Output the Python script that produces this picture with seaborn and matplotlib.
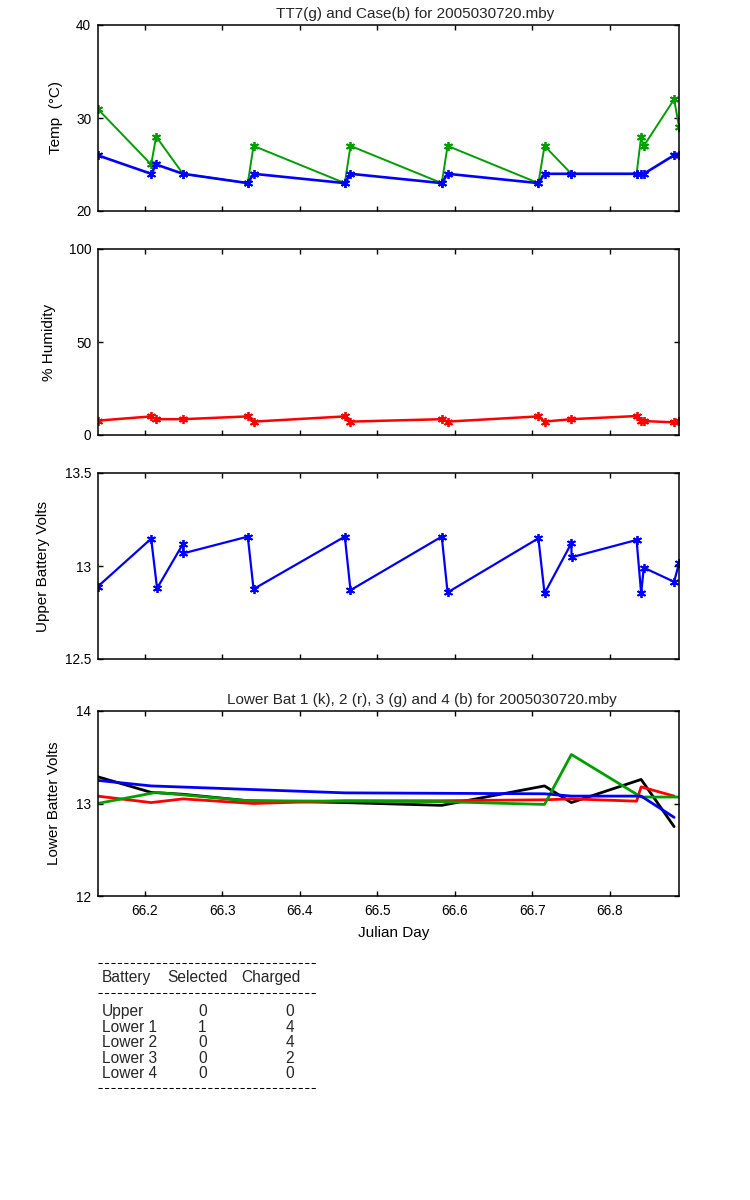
import matplotlib
matplotlib.use("Agg")
import matplotlib.pyplot as plt
import seaborn as sns
import pandas as pd
from matplotlib.lines import Line2D

# ---------------- data ----------------
times = [66.1392, 66.2084, 66.2148, 66.2494, 66.3330, 66.3404, 66.4581, 66.4654,
         66.5831, 66.5906, 66.7077, 66.7156, 66.7502, 66.8343, 66.8402, 66.8436,
         66.8827, 66.8892]
case_temp = [26, 24, 25, 24, 23, 24, 23, 24, 23, 24, 23, 24, 24, 24, 24, 24, 26, 26]
tt7_temp = [31, 25, 28, 24, 23, 27, 23, 27, 23, 27, 23, 27, 24, 24, 28, 27, 32, 29]
humidity = [7.7, 10.0, 8.5, 8.5, 10.0, 7.2, 10.0, 7.2, 8.5, 7.2, 10.0, 7.2, 8.5,
            10.2, 7.5, 7.5, 6.8, 7.3]

upper_times = [66.1392, 66.2084, 66.2160, 66.2494, 66.2497, 66.3330, 66.3404, 66.4581,
               66.4654, 66.5831, 66.5906, 66.7077, 66.7156, 66.7502, 66.7505, 66.8343,
               66.8402, 66.8436, 66.8827, 66.8892]
upper_volts = [12.888, 13.147, 12.880, 13.119, 13.068, 13.158, 12.876, 13.158,
               12.870, 13.158, 12.858, 13.149, 12.853, 13.122, 13.047, 13.140,
               12.853, 12.991, 12.915, 13.018]

low1_times = [66.1392, 66.2084, 66.2494, 66.3330, 66.4581, 66.5831, 66.7156, 66.7502,
              66.8402, 66.8827]
low1_volts = [13.29, 13.12, 13.10, 13.03, 13.01, 12.98, 13.19, 13.01, 13.26, 12.75]

low2_times = [66.1392, 66.2084, 66.2494, 66.3404, 66.4581, 66.5831, 66.7156, 66.7502,
              66.8343, 66.8402, 66.8827]
low2_volts = [13.08, 13.01, 13.05, 13.00, 13.03, 13.03, 13.04, 13.05, 13.025, 13.18, 13.08]

low3_times = [66.1392, 66.2148, 66.3330, 66.5831, 66.7156, 66.7502, 66.8402, 66.8892]
low3_volts = [13.00, 13.12, 13.03, 13.02, 12.99, 13.53, 13.07, 13.07]

low4_times = [66.1392, 66.2084, 66.4581, 66.7156, 66.7502, 66.8402, 66.8827]
low4_volts = [13.25, 13.19, 13.115, 13.105, 13.08, 13.08, 12.85]

x_ticks = [66.2, 66.3, 66.4, 66.5, 66.6, 66.7, 66.8]
x_tick_labels = ["66.2", "66.3", "66.4", "66.5", "66.6", "66.7", "66.8"]

table_batteries = ["Upper", "Lower 1", "Lower 2", "Lower 3", "Lower 4"]
table_selected = [0, 1, 0, 0, 0]
table_charged = [0, 4, 4, 2, 0]

# ---------------- styling ----------------
sns.set_theme(style="ticks")
plt.rcParams["font.family"] = ["Liberation Sans", "DejaVu Sans"]

W, H = 750, 1200
fig = plt.figure(figsize=(W / 100, H / 100), dpi=100)
fig.patch.set_facecolor("white")

GREEN = "#00a000"
BLUE = "#0000ff"
RED = "#ff0000"
BLACK = "#000000"
XLIM = (66.1392, 66.8890)
ASTERISK = (6, 2, 0)
LFS = 11


def make_ax(top, bottom, left=97.5, right=679):
    return fig.add_axes([left / W, 1 - bottom / H, (right - left) / W, (bottom - top) / H])


def style_ax(ax, ylim, yticks, ylabels, ylabel, label_x, show_x=False):
    ax.set_xlim(*XLIM)
    ax.set_ylim(*ylim)
    ax.set_xticks(x_ticks)
    ax.set_xticklabels(x_tick_labels if show_x else [])
    ax.set_yticks(yticks)
    ax.set_yticklabels(ylabels)
    ax.tick_params(direction="in", top=True, right=True, length=3.6, width=1.0,
                   labelsize=9.8, colors="black")
    ax.tick_params(axis="y", pad=4.5)
    ax.tick_params(axis="x", pad=5.5)
    for s in ax.spines.values():
        s.set_linewidth(1.1)
        s.set_color("black")
        s.set_visible(True)
    ax.set_facecolor("white")
    ax.grid(False)
    ax.set_ylabel(ylabel, fontsize=LFS, color="black")
    ax.yaxis.set_label_coords(label_x, 0.5)
    ax.set_xlabel("")


def line(ax, x, y, color, marker=None, lw=1.5):
    kw = dict(x=x, y=y, ax=ax, color=color, sort=False, estimator=None, linewidth=lw)
    if marker:
        kw.update(marker=marker, markersize=6.5, markeredgecolor=color, markeredgewidth=1.3)
    sns.lineplot(**kw)


# Panel 1: temperature
ax1 = make_ax(25, 211)
line(ax1, times, tt7_temp, GREEN, ASTERISK, 1.4)
line(ax1, times, case_temp, BLUE, ASTERISK, 1.9)
style_ax(ax1, (20, 40), [20, 30, 40], ["20", "30", "40"], "Temp  (\u00b0C)", -0.060)
ax1.set_title("TT7(g) and Case(b) for 2005030720.mby", fontsize=LFS, x=0.547, pad=5)

# Panel 2: humidity
ax2 = make_ax(249, 435)
line(ax2, times, humidity, RED, ASTERISK, 1.8)
style_ax(ax2, (0, 100), [0, 50, 100], ["0", "50", "100"], "% Humidity", -0.072)

# Panel 3: upper battery
ax3 = make_ax(473, 659)
line(ax3, upper_times, upper_volts, BLUE, ASTERISK, 1.6)
style_ax(ax3, (12.5, 13.5), [12.5, 13, 13.5], ["12.5", "13", "13.5"],
         "Upper Battery Volts", -0.081)

# Panel 4: lower batteries
ax4 = make_ax(711, 896)
line(ax4, low1_times, low1_volts, BLACK, None, 2.0)
line(ax4, low2_times, low2_volts, RED, None, 2.0)
line(ax4, low3_times, low3_volts, GREEN, None, 2.0)
line(ax4, low4_times, low4_volts, BLUE, None, 2.0)
style_ax(ax4, (12, 14), [12, 13, 14], ["12", "13", "14"], "Lower Batter Volts", -0.062,
         show_x=True)
ax4.set_title("Lower Bat 1 (k), 2 (r), 3 (g) and 4 (b) for 2005030720.mby",
              fontsize=LFS, x=0.557, pad=5)
ax4.set_xlabel("Julian Day", fontsize=LFS, color="black")
ax4.xaxis.set_label_coords(0.509, -0.16)

# ---------------- battery table ----------------
def fy(py):
    return 1 - py / H


def fx(px):
    return px / W


for py in (962.7, 993.3, 1088.3):
    fig.add_artist(Line2D([fx(97.5), fx(317)], [fy(py), fy(py)], color="black",
                          linewidth=0.75, dashes=(4, 2.2)))

TFS = 11.2
fig.text(fx(101.7), fy(981.7), "Battery", fontsize=TFS, va="baseline", ha="left")
fig.text(fx(167.7), fy(981.7), "Selected", fontsize=TFS, va="baseline", ha="left")
fig.text(fx(241.7), fy(981.7), "Charged", fontsize=TFS, va="baseline", ha="left")

row_base = [1015.7, 1031.5, 1047.0, 1062.7, 1078.3]
for name, sel, chg, py in zip(table_batteries, table_selected, table_charged, row_base):
    fig.text(fx(101.7), fy(py), name, fontsize=TFS, va="baseline", ha="left")
    fig.text(fx(202.3), fy(py), str(sel), fontsize=TFS, va="baseline", ha="center")
    fig.text(fx(290), fy(py), str(chg), fontsize=TFS, va="baseline", ha="center")

fig.savefig("out.png", dpi=100, facecolor="white")
